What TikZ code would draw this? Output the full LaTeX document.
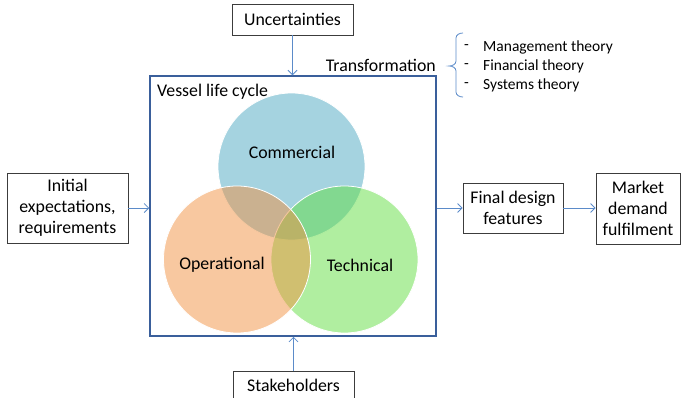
\documentclass[tikz,border=0pt]{standalone}
\usepackage{fontspec}
\setmainfont{Carlito}
\usetikzlibrary{arrows.meta}
\definecolor{frameblue}{RGB}{58,95,155}
\definecolor{linkblue}{RGB}{91,139,201}
\definecolor{boxgray}{RGB}{60,60,60}
\definecolor{commercialc}{RGB}{75,167,193}
\definecolor{technicalc}{RGB}{97,221,65}
\definecolor{operationalc}{RGB}{241,145,65}
\tikzset{
  txt/.style={font=\fontsize{17.8}{21}\selectfont, text=black},
  smalltxt/.style={font=\fontsize{15.5}{19}\selectfont, text=black, inner sep=0pt, anchor=west},
  plainbox/.style={draw=boxgray, line width=0.8pt, txt, align=center, inner sep=0pt},
  link/.style={draw=linkblue, line width=0.8pt, -{Straight Barb[length=4.5pt,width=9pt,line width=0.8pt]}},
  venn/.style={fill opacity=0.5, draw=white, line width=0.8pt},
}
\begin{document}
\begin{tikzpicture}[x=1pt,y=-1pt]
  \useasboundingbox (0,0) rectangle (681,397);
  \clip (0,0) rectangle (681,397);

  % vessel life cycle frame
  \node[draw=frameblue, line width=1.5pt, minimum width=286pt, minimum height=260pt, inner sep=0pt] (life) at (293,206) {};
  \node[txt, anchor=west, inner sep=0pt] (lifelbl) at (157,92) {Vessel life cycle};

  % the three overlapping aspects
  \filldraw[venn, fill=commercialc] (291.5,166.5) circle[radius=73.5pt];
  \filldraw[venn, fill=technicalc] (344.5,259.5) circle[radius=73.5pt];
  \filldraw[venn, fill=operationalc] (237,259.5) circle[radius=73.5pt];
  \node[txt] (comm) at (292,152) {Commercial};
  \node[txt] (oper) at (222,265) {Operational};
  \node[txt] (tech) at (360,265) {Technical};

  % inputs and outputs
  \node[plainbox, minimum width=121pt, minimum height=31pt] (unc) at (292.5,19.5) {Uncertainties};
  \node[plainbox, minimum width=121pt, minimum height=27pt] (stake) at (293.5,385) {Stakeholders};
  \node[plainbox, minimum width=121pt, minimum height=70pt] (init) at (67.5,208) {Initial\\expectations,\\requirements};
  \node[plainbox, minimum width=100pt, minimum height=50pt] (final) at (513,208) {Final design\\features};
  \node[plainbox, minimum width=84pt, minimum height=71pt] (market) at (638,208.5) {Market\\demand\\fulfilment};

  \draw[link] (unc.south) -- (unc.south |- life.north);
  \draw[link] (stake.north) -- (stake.north |- life.south);
  \draw[link] (init.east) -- (init.east -| life.west);
  \draw[link] (life.east |- final.west) -- (final.west);
  \draw[link] (final.east) -- (market.west |- final.east);

  % transformation theories
  \node[txt, anchor=east, inner sep=0pt] (trans) at (436,65) {Transformation};
  \coordinate (btop) at (463,33);
  \coordinate (btip) at (449,66);
  \coordinate (bbot) at (463,97);
  \draw[linkblue, line width=0.8pt]
    (btop) to[out=180,in=90] (456,38) -- (456,61)
    to[out=-90,in=0] (btip)
    to[out=0,in=90] (456,71) -- (456,92)
    to[out=-90,in=180] (bbot);
  \node[smalltxt] (d1) at (464,47) {-};
  \node[smalltxt] (d2) at (464,66) {-};
  \node[smalltxt] (d3) at (464,85) {-};
  \node[smalltxt] (t1) at (483,47) {Management theory};
  \node[smalltxt] (t2) at (483,66) {Financial theory};
  \node[smalltxt] (t3) at (483,85) {Systems theory};
\end{tikzpicture}
\end{document}
